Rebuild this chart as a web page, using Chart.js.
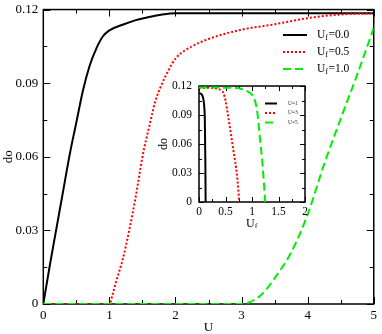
<!DOCTYPE html>
<html>
<head>
<meta charset="utf-8">
<script src="https://cdn.jsdelivr.net/npm/chart.js@4.4.0/dist/chart.umd.min.js"></script>
<style>
html,body{margin:0;padding:0;background:#fff;}
#wrap{position:relative;width:382px;height:334px;}
#main{position:absolute;left:0;top:0;}
#inset{position:absolute;left:150px;top:75px;}
</style>
</head>
<body>
<div id="wrap">
<canvas id="main" width="382" height="334"></canvas>
<canvas id="inset" width="162" height="153"></canvas>
</div>
<script>
// =======================================
// data - main panel (do vs U)
// =======================================

const ufLabels = ["0.0", "0.5", "1.0"];

const uUf00  = [0, 0.1, 0.2, 0.3, 0.4, 0.5, 0.6, 0.7, 0.8, 0.9, 1.0, 1.2, 1.4, 1.6, 1.8, 2.0, 3.0, 4.0, 5.0];
const doUf00 = [0, 0.016, 0.031, 0.046, 0.061, 0.074, 0.087, 0.097, 0.104, 0.109, 0.1115, 0.1138, 0.1157, 0.117, 0.118, 0.1185, 0.1185, 0.1185, 0.1185];

const uUf05  = [0, 1.0, 1.05, 1.1, 1.2, 1.3, 1.4, 1.5, 1.6, 1.7, 1.8, 1.9, 2.0, 2.25, 2.5, 3.0, 3.5, 4.0, 4.5, 5.0];
const doUf05 = [0, 0, 0.004, 0.009, 0.018, 0.030, 0.044, 0.060, 0.072, 0.083, 0.090, 0.0955, 0.100, 0.105, 0.108, 0.1118, 0.114, 0.1165, 0.118, 0.1184];

const uUf10  = [0, 3.0, 3.1, 3.2, 3.3, 3.4, 3.5, 3.75, 4.0, 4.25, 4.5, 4.75, 5.0];
const doUf10 = [0, 0, 0.0005, 0.0018, 0.0038, 0.0068, 0.0105, 0.021, 0.0365, 0.057, 0.0755, 0.0935, 0.1125];

// =======================================
// data - inset (do vs Uf)
// =======================================

const uLabels = ["U=1", "U=3", "U=5"];

const ufU1  = [0, 0.03, 0.06, 0.08, 0.1, 0.11, 0.12, 0.125];
const doU1  = [0.1125, 0.1122, 0.1105, 0.107, 0.098, 0.085, 0.04, 0];

const ufU3  = [0, 0.2, 0.35, 0.42, 0.46, 0.5, 0.55, 0.6, 0.65, 0.7, 0.73, 0.76];
const doU3  = [0.1183, 0.1182, 0.117, 0.1155, 0.113, 0.105, 0.089, 0.071, 0.053, 0.0355, 0.02, 0];

const ufU5  = [0, 0.5, 0.7, 0.8, 0.9, 1.0, 1.05, 1.1, 1.15, 1.2, 1.25];
const doU5  = [0.1185, 0.1183, 0.118, 0.117, 0.115, 0.111, 0.106, 0.093, 0.066, 0.038, 0];


const SERIF = "'Liberation Serif', 'Times New Roman', serif";
const colors = ["#000000", "#ff0000", "#00ee00"];
const dashes = [[], [2, 2], [8, 4]];

function pts(xs, ys){
  return xs.map((x, i) => ({x: x, y: ys[i]}));
}

function series(xs, ys, i){
  return {
    data: pts(xs, ys),
    borderColor: colors[i],
    borderWidth: 2,
    borderDash: dashes[i],
    pointRadius: 0,
    fill: false,
    cubicInterpolationMode: "monotone",
    order: 3 - i
  };
}

// frame round the plot area with inward ticks on all sides
function frameTicks(majorLen, minorLen){
  return {
    id: "frameTicks",
    beforeDatasetsDraw(chart){
      const {ctx, chartArea: a, scales: {x, y}} = chart;
      ctx.save();
      ctx.strokeStyle = "#000";
      ctx.lineWidth = 1;
      const draw = (scale, horiz) => {
        const vals = scale.ticks.map(t => t.value);
        const all = [];
        vals.forEach((v, i) => {
          all.push([v, majorLen]);
          if (i < vals.length - 1) all.push([(v + vals[i + 1]) / 2, minorLen]);
        });
        all.forEach(([v, len]) => {
          const p = Math.round(scale.getPixelForValue(v)) + 0.5;
          ctx.beginPath();
          if (horiz){
            ctx.moveTo(p, a.bottom); ctx.lineTo(p, a.bottom - len);
            ctx.moveTo(p, a.top); ctx.lineTo(p, a.top + len);
          } else {
            ctx.moveTo(a.left, p); ctx.lineTo(a.left + len, p);
            ctx.moveTo(a.right, p); ctx.lineTo(a.right - len, p);
          }
          ctx.stroke();
        });
      };
      draw(x, true);
      draw(y, false);
      ctx.lineWidth = 1.5;
      ctx.strokeRect(a.left, a.top, a.right - a.left, a.bottom - a.top);
      ctx.restore();
    }
  };
}

// U with subscript f
function drawUf(ctx, x, y, size, rest){
  ctx.font = size + "px " + SERIF;
  ctx.fillText("U", x, y);
  let w = ctx.measureText("U").width;
  ctx.font = Math.round(size * 0.7) + "px " + SERIF;
  ctx.fillText("f", x + w, y + size * 0.25);
  w += ctx.measureText("f").width + 0.5;
  if (rest){
    ctx.font = size + "px " + SERIF;
    ctx.fillText(rest, x + w, y);
  }
}

const mainKey = {
  id: "mainKey",
  afterDatasetsDraw(chart){
    const ctx = chart.ctx;
    ctx.save();
    ctx.fillStyle = "#000";
    ctx.textBaseline = "middle";
    ufLabels.forEach((lab, i) => {
      const yy = 35 + i * 17;
      ctx.strokeStyle = colors[i];
      ctx.lineWidth = 2;
      ctx.setLineDash(dashes[i]);
      ctx.beginPath();
      ctx.moveTo(283, yy); ctx.lineTo(307, yy);
      ctx.stroke();
      ctx.setLineDash([]);
      drawUf(ctx, 317, yy, 11.5, "=" + lab);
    });
    ctx.restore();
  }
};

const insetKey = {
  id: "insetKey",
  afterDatasetsDraw(chart){
    const ctx = chart.ctx;
    ctx.save();
    ctx.fillStyle = "#333";
    ctx.textBaseline = "middle";
    ctx.font = "5.5px " + SERIF;
    uLabels.forEach((lab, i) => {
      const yy = 28.5 + i * 9.5;
      ctx.strokeStyle = colors[i];
      ctx.lineWidth = 2;
      ctx.setLineDash(dashes[i]);
      ctx.beginPath();
      ctx.moveTo(115, yy); ctx.lineTo(127, yy);
      ctx.stroke();
      ctx.setLineDash([]);
      ctx.fillText(lab, 138, yy);
    });
    // x title U_f
    const a = chart.chartArea;
    ctx.fillStyle = "#000";
    drawUf(ctx, (a.left + a.right) / 2 - 6, 149, 12, "");
    ctx.restore();
  }
};

function yTicks(v){
  return v === 0 ? "0" : v.toFixed(2);
}

function plainTicks(v){
  return String(+v.toFixed(2));
}

// =======================================
// main chart
// =======================================

new Chart(document.getElementById("main"), {
  type: "line",
  data: {
    datasets: [
      series(uUf00, doUf00, 0),
      series(uUf05, doUf05, 1),
      series(uUf10, doUf10, 2)
    ]
  },
  options: {
    responsive: false,
    animation: false,
    layout: {padding: {left: 0, top: 5, right: 4.3, bottom: 0}},
    plugins: {legend: {display: false}, tooltip: {enabled: false}},
    scales: {
      x: {
        type: "linear", min: 0, max: 5,
        ticks: {stepSize: 1, color: "#000", padding: 5, maxRotation: 0, callback: plainTicks,
                font: {family: SERIF, size: 13, lineHeight: 1}},
        grid: {display: false, drawTicks: false},
        border: {display: false},
        title: {display: true, text: "U", color: "#000", padding: 0,
                font: {family: SERIF, size: 13, lineHeight: 1}},
        afterFit(s){ s.height = 30; }
      },
      y: {
        type: "linear", min: 0, max: 0.12,
        ticks: {stepSize: 0.03, color: "#000", padding: 5, callback: yTicks,
                font: {family: SERIF, size: 13, lineHeight: 0.7}},
        grid: {display: false, drawTicks: false},
        border: {display: false},
        title: {display: true, text: "do", color: "#000", padding: {top: 2.5, bottom: 0},
                font: {family: SERIF, size: 13, lineHeight: 1}},
        afterFit(s){ s.width = 43.3; }
      }
    }
  },
  plugins: [frameTicks(7, 4), mainKey]
});

// =======================================
// inset chart
// =======================================

new Chart(document.getElementById("inset"), {
  type: "line",
  data: {
    datasets: [
      series(ufU1, doU1, 0),
      series(ufU3, doU3, 1),
      series(ufU5, doU5, 2)
    ]
  },
  options: {
    responsive: false,
    animation: false,
    layout: {padding: {left: 0, top: 8, right: 7, bottom: 0}},
    plugins: {legend: {display: false}, tooltip: {enabled: false}},
    scales: {
      x: {
        type: "linear", min: 0, max: 2,
        ticks: {stepSize: 0.5, color: "#000", padding: 4, maxRotation: 0, callback: plainTicks,
                font: {family: SERIF, size: 11.5, lineHeight: 1}},
        grid: {display: false, drawTicks: false},
        border: {display: false},
        afterFit(s){ s.height = 26; }
      },
      y: {
        type: "linear", min: 0, max: 0.12,
        ticks: {stepSize: 0.03, color: "#000", padding: 7, callback: yTicks,
                font: {family: SERIF, size: 11.5, lineHeight: 0.7}},
        grid: {display: false, drawTicks: false},
        border: {display: false},
        title: {display: true, text: "do", color: "#000", padding: {top: 7.5, bottom: 0},
                font: {family: SERIF, size: 12, lineHeight: 1}},
        afterFit(s){ s.width = 49; }
      }
    }
  },
  plugins: [frameTicks(5, 3), insetKey]
});
</script>
</body>
</html>
